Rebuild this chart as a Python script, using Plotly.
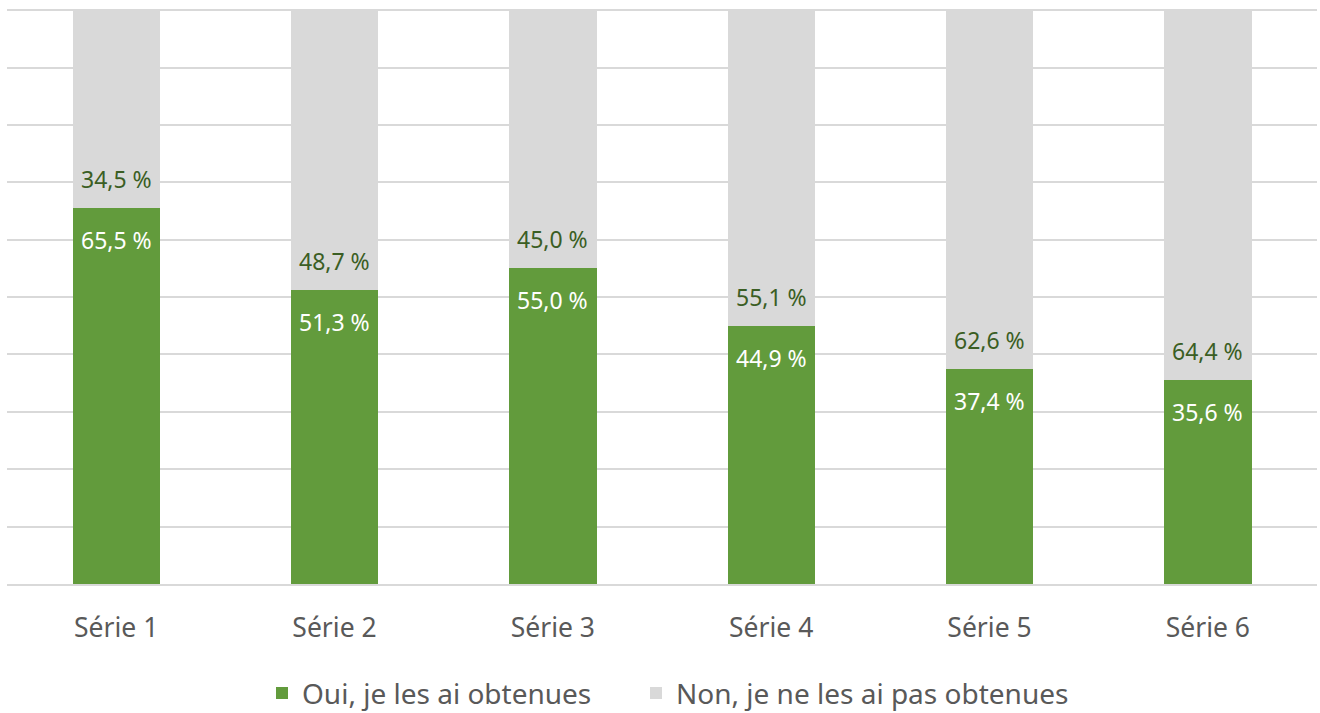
import plotly.graph_objects as go

categories = ["Série 1", "Série 2", "Série 3", "Série 4", "Série 5", "Série 6"]
oui = [65.5, 51.3, 55.0, 44.9, 37.4, 35.6]
non = [34.5, 48.7, 45.0, 55.1, 62.6, 64.4]
tick_vals = [0, 10, 20, 30, 40, 50, 60, 70, 80, 90, 100]

def fmt(v):
    return f"{v:.1f}".replace(".", ",") + " %"

fig = go.Figure()
fig.add_trace(go.Bar(
    x=categories, y=oui, name="Oui, je les ai obtenues",
    marker=dict(color="#629b3c", line=dict(width=0)), legendwidth=329,
))
fig.add_trace(go.Bar(
    x=categories, y=non, name="Non, je ne les ai pas obtenues",
    marker=dict(color="#d9d9d9", line=dict(width=0)), legendwidth=430,
))

for c, o, n in zip(categories, oui, non):
    fig.add_annotation(x=c, y=o, text=fmt(o), showarrow=False, yanchor="middle",
                       yshift=-32, font=dict(color="#ffffff", size=23, family="Noto Sans"))
    fig.add_annotation(x=c, y=o, text=fmt(n), showarrow=False, yanchor="middle",
                       yshift=29, font=dict(color="#3b5e24", size=23, family="Noto Sans"))

fig.update_layout(
    barmode="stack",
    bargap=0.6,
    width=1320, height=713,
    margin=dict(l=7, r=3, t=9, b=129, autoexpand=False),
    plot_bgcolor="#ffffff", paper_bgcolor="#ffffff",
    font=dict(family="Noto Sans", color="#595959", size=26),
    showlegend=True,
    legend=dict(orientation="h", x=(278 - 7 - 16) / 1310, xanchor="left", y=-0.19,
                yanchor="middle", font=dict(size=28, color="#595959"),
                traceorder="normal"),
    xaxis=dict(showgrid=False, showline=True, linecolor="#d9d9d9", linewidth=2,
               tickfont=dict(size=26.5, color="#595959"), ticks="", ticklen=0,
               ticklabelstandoff=19),
    yaxis=dict(range=[0, 100.2], tickvals=tick_vals, showticklabels=False,
               showgrid=True, gridcolor="#d9d9d9", gridwidth=2, zeroline=False,
               fixedrange=True),
)

fig.write_html("out.html", config={"displayModeBar": False},
               post_script="document.body.style.margin='0';")
